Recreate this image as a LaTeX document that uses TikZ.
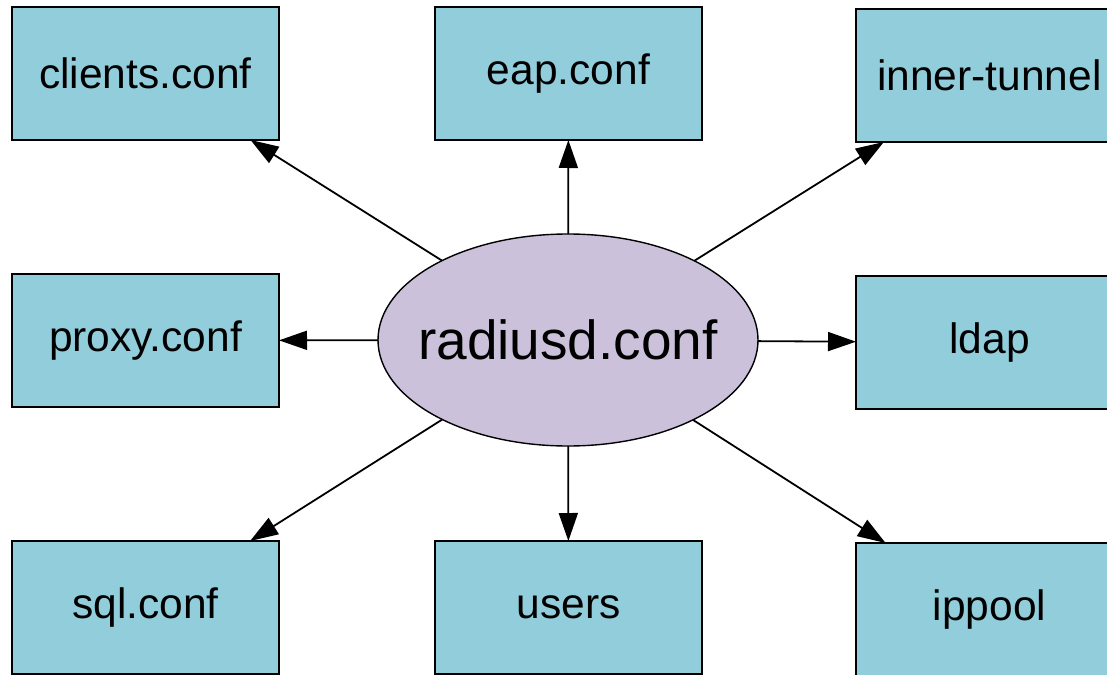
\documentclass[tikz,border=0pt]{standalone}
\usepackage{fontspec}
\setmainfont{Liberation Sans}
\usetikzlibrary{shapes.geometric,arrows.meta}
\definecolor{boxblue}{HTML}{92CDDC}
\definecolor{ellpurple}{HTML}{CCC1DA}
\tikzset{
  filebox/.style={draw=black, line width=1.8pt, fill=boxblue, minimum width=267pt, minimum height=133pt, inner sep=0pt, outer sep=0pt, font=\fontsize{42.5}{50}\selectfont},
  mainell/.style={ellipse, draw=black, line width=1.4pt, fill=ellpurple, minimum width=380pt, minimum height=212pt, inner sep=0pt, outer sep=0pt},
  elltext/.style={inner sep=0pt, font=\fontsize{55}{64}\selectfont},
  link/.style={line width=1.8pt, -{Triangle[length=28pt,width=19pt]}}
}
\begin{document}
\begin{tikzpicture}[x=1pt,y=1pt]
\useasboundingbox (0,0) rectangle (1107,-674);
\clip (0,0) rectangle (1107,-674);
\fill[white] (0,0) rectangle (1107,-674);
\node[filebox] (clients) at (145.5,-73.5) {clients.conf};
\node[filebox] (eap) at (568.5,-73.5) {eap.conf};
\node[filebox] (inner) at (989.5,-75.5) {inner-tunnel};
\node[filebox] (proxy) at (145.5,-340.5) {proxy.conf};
\node[filebox] (ldap) at (989.5,-342.5) {ldap};
\node[filebox] (sql) at (145.5,-607.5) {sql.conf};
\node[filebox] (users) at (568.5,-607.5) {users};
\node[filebox] (ippool) at (989.5,-609.5) {ippool};
\node[mainell] (radius) at (568,-340) {};
\node[elltext] (radiuslabel) at (radius.center) {radiusd.conf};
\draw[link] (radius) -- (clients);
\draw[link] (radius) -- (eap);
\draw[link] (radius) -- (inner);
\draw[link] (radius) -- (proxy);
\draw[link] (radius) -- (ldap);
\draw[link] (radius) -- (sql);
\draw[link] (radius) -- (users);
\draw[link] (radius) -- (ippool);
\end{tikzpicture}
\end{document}
